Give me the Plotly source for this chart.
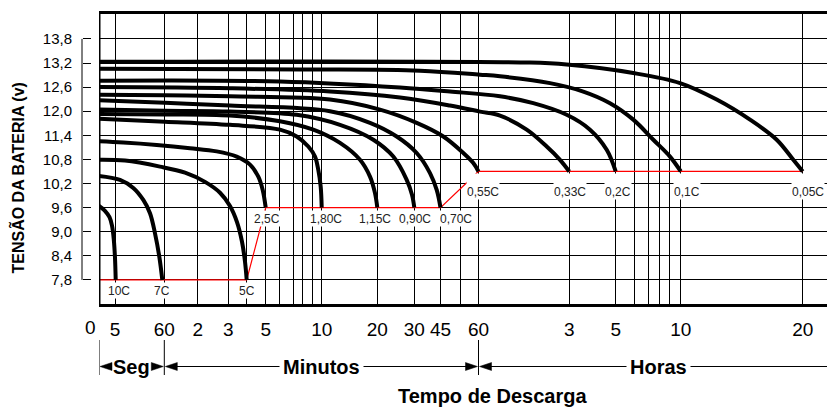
import numpy as np
import plotly.graph_objects as go

# ---------------- data ----------------
# time scale of the original chart: time (minutes) -> position on the drawn axis
GRID_TIMES = [0, 5 / 60, 1, 2, 3, 4, 5, 6, 7, 8, 9, 10, 20, 30, 45, 50, 60,
              180, 300, 360, 420, 480, 540, 600, 1200]
GRID_POS = [0, 16, 65.3, 98.7, 129.3, 147.7, 166.7, 180, 194.3, 203.3, 213.3, 222.7,
            278.3, 315.3, 341.5, 361.5, 379.5, 470.3, 516.7, 535.7, 549.2, 560.8,
            570.5, 581.8, 703.7]
X_RANGE = [0, 728]

MAJOR_TIMES = [5 / 60, 1, 2, 3, 5, 10, 20, 30, 45, 60, 180, 300, 600, 1200]
MAJOR_TEXT = ["5", "60", "2", "3", "5", "10", "20", "30", "45", "60", "3", "5", "10", "20"]
MINOR_TIMES = [4, 6, 7, 8, 9, 50, 360, 420, 480, 540]

Y_TICKS = [7.8, 8.4, 9.0, 9.6, 10.2, 10.8, 11.4, 12.0, 12.6, 13.2, 13.8]
Y_RANGE = [7.2, 14.42]

RATES = ["10C", "7C", "5C", "2,5C", "1,80C", "1,15C", "0,90C", "0,70C",
         "0,55C", "0,33C", "0,2C", "0,1C", "0,05C"]

T_10C = [0, 0.031, 0.0547, 0.0677, 0.0771, 0.0833, 0.0963]
V_10C = [9.64, 9.52, 9.36, 9.15, 8.80, 8.35, 7.80]

T_7C = [0, 0.1763, 0.4236, 0.6095, 0.7341, 0.8271, 0.907, 0.9628]
V_7C = [10.39, 10.29, 10.09, 9.79, 9.46, 8.96, 8.38, 7.80]

T_5C = [0, 0.2692, 0.92, 1.62, 2.239, 2.729, 3.092, 3.473, 3.745, 3.908, 4.0]
V_5C = [10.79, 10.77, 10.62, 10.47, 10.24, 9.97, 9.64, 9.24, 8.75, 8.25, 7.80]

T_2_5C = [0, 0.2376, 0.8587, 1.769, 2.621, 3.457, 4.174, 4.611, 4.842, 5.0]
V_2_5C = [11.25, 11.22, 11.16, 11.08, 11.00, 10.87, 10.67, 10.37, 10.04, 9.60]

T_1_80C = [0, 1.021, 3.092, 6.07, 7.378, 8.6, 9.287, 9.638, 9.894, 10.0]
V_1_80C = [11.81, 11.74, 11.66, 11.54, 11.37, 11.12, 10.87, 10.54, 10.12, 9.60]

T_1_15C = [0, 1.021, 3.092, 6.07, 9.106, 13.29, 16.889, 18.687, 19.587, 20.0]
V_1_15C = [11.93, 11.92, 11.89, 11.75, 11.54, 11.21, 10.79, 10.37, 9.96, 9.60]

T_0_90C = [0, 1.021, 3.092, 7.378, 13.29, 19.281, 24.324, 27.946, 29.378, 30.0]
V_0_90C = [12.04, 12.01, 11.99, 11.91, 11.66, 11.29, 10.87, 10.29, 9.92, 9.60]

T_0_70C = [0, 1.021, 3.092, 11.493, 18.687, 25.243, 31.374, 38.989, 42.824, 45.0]
V_0_70C = [12.27, 12.21, 12.14, 12.00, 11.71, 11.37, 10.96, 10.46, 10.04, 9.60]

T_0_55C = [0, 1.021, 3.092, 11.493, 20.73, 31.374, 45.7, 51.556, 57.111, 60.0]
V_0_55C = [12.41, 12.40, 12.37, 12.29, 12.04, 11.71, 11.37, 10.96, 10.71, 10.50]

T_0_33C = [0, 3.092, 11.493, 26.135, 47.375, 61.98, 88.41, 123.7, 150.13, 167.7, 180.0]
V_0_33C = [12.60, 12.57, 12.49, 12.34, 12.14, 11.99, 11.89, 11.54, 11.12, 10.79, 10.50]

T_0_2C = [0, 6.07, 26.135, 47.375, 88.41, 132.42, 176.57, 233.53, 276.72, 300.0]
V_0_2C = [12.76, 12.74, 12.59, 12.49, 12.37, 12.20, 11.91, 11.54, 11.04, 10.50]

T_0_1C = [0, 7.744, 33.26, 61.98, 88.41, 154.49, 216.21, 285.26, 355.58, 446.38, 542.65, 600.0]
V_0_1C = [13.06, 13.04, 13.01, 12.91, 12.87, 12.70, 12.49, 12.20, 11.79, 11.29, 10.87, 10.50]

T_0_05C = [0, 128.06, 176.57, 355.58, 595.8, 776.7, 940.6, 1072.0, 1153.7, 1200.0]
V_0_05C = [13.23, 13.21, 13.16, 12.95, 12.70, 12.29, 11.79, 11.29, 10.79, 10.50]

TIMES = [T_10C, T_7C, T_5C, T_2_5C, T_1_80C, T_1_15C, T_0_90C, T_0_70C,
         T_0_55C, T_0_33C, T_0_2C, T_0_1C, T_0_05C]
VOLTS = [V_10C, V_7C, V_5C, V_2_5C, V_1_80C, V_1_15C, V_0_90C, V_0_70C,
         V_0_55C, V_0_33C, V_0_2C, V_0_1C, V_0_05C]

# ---------------- styling ----------------
W, H = 827, 407
ML, MR, MT, MB = 0, 0, 14, 103
PW, PH = W - ML - MR, H - MT - MB
FONT = "Liberation Sans, Arial, sans-serif"
# label offsets (px) relative to each curve's end point, and white box heights
LABEL_DX = [3, 0, 0, 1, 4, -2, 1, 15, 4, 1, 2, 6, 5]
LABEL_BOX_H = [15, 15, 15, 15, 15, 15, 15, 15, 25, 25, 25, 25, 25]


def to_pos(t):
    return np.interp(np.asarray(t, dtype=float), GRID_TIMES, GRID_POS)


def px_x(p):
    return (p - ML) / PW


def px_y(p):
    return (H - MB - p) / PH


fig = go.Figure()

# red end-of-discharge line joining curve end points
end_idx = [2, 3, 7, 8, 12]
red_t = [0] + [TIMES[i][-1] for i in end_idx]
red_v = [VOLTS[2][-1]] + [VOLTS[i][-1] for i in end_idx]
fig.add_trace(go.Scatter(x=to_pos(red_t), y=red_v, mode="lines",
                         line=dict(color="#ff0000", width=1.2),
                         hoverinfo="skip", showlegend=False))

for name, t, v in zip(RATES, TIMES, VOLTS):
    fig.add_trace(go.Scatter(x=to_pos(t), y=v, mode="lines", name=name,
                             line=dict(color="black", width=4, shape="spline", smoothing=1.0),
                             showlegend=False))

annotations = []
for i, (name, t, v) in enumerate(zip(RATES, TIMES, VOLTS)):
    annotations.append(dict(
        x=float(to_pos(t[-1])), y=v[-1], xref="x", yref="y", text=name,
        showarrow=False, xanchor="center", yanchor="top", yshift=-2,
        xshift=LABEL_DX[i], height=LABEL_BOX_H[i], valign="bottom",
        bgcolor="white", borderpad=0,
        font=dict(family=FONT, size=12, color="#222")))

# "0" tick label left of the frame
annotations.append(dict(x=px_x(90), y=px_y(327), xref="paper", yref="paper", text="0",
                        showarrow=False, xanchor="center", yanchor="middle",
                        font=dict(family=FONT, size=19, color="black")))

# unit groups below the axis
grp_y = px_y(366.5)
p0, p1, p60 = [float(to_pos(v)) for v in (0, 1, 60)]
annotations.append(dict(x=(p0 + p1) / 2, y=grp_y, xref="x", yref="paper", text="<b>Seg</b>",
                        showarrow=False, xanchor="center", yanchor="middle",
                        font=dict(family=FONT, size=20, color="black")))
annotations.append(dict(x=(p1 + p60) / 2, y=grp_y, xref="x", yref="paper", text="<b>Minutos</b>",
                        showarrow=False, xanchor="center", yanchor="middle", bgcolor="white",
                        borderpad=3, font=dict(family=FONT, size=20, color="black")))
annotations.append(dict(x=px_x(658), y=grp_y, xref="paper", yref="paper", text="<b>Horas</b>",
                        showarrow=False, xanchor="center", yanchor="middle", bgcolor="white",
                        borderpad=3, font=dict(family=FONT, size=20, color="black")))
annotations.append(dict(x=px_x(492.5), y=px_y(396), xref="paper", yref="paper",
                        text="<b>Tempo de Descarga</b>", showarrow=False,
                        xanchor="center", yanchor="middle",
                        font=dict(family=FONT, size=20, color="black")))
annotations.append(dict(x=px_x(16.5), y=px_y(178), xref="paper", yref="paper",
                        text="<b>TENSÃO DA BATERIA (v)</b>", textangle=-90, showarrow=False,
                        xanchor="center", yanchor="middle",
                        font=dict(family=FONT, size=16, color="black")))

shapes = []
# left frame edge
shapes.append(dict(type="line", xref="x", yref="paper", x0=0, x1=0, y0=0, y1=1,
                   line=dict(color="black", width=3)))
# separate voltage axis line
shapes.append(dict(type="line", xref="paper", yref="y", x0=px_x(82), x1=px_x(82),
                   y0=Y_TICKS[0], y1=Y_TICKS[-1], line=dict(color="black", width=1)))
# group brackets
for p in (p0, p1, p60):
    shapes.append(dict(type="line", xref="x", yref="paper", x0=p, x1=p,
                       y0=px_y(340), y1=px_y(375), line=dict(color="black", width=1)))
shapes.append(dict(type="line", xref="x", yref="paper", x0=p1 + 11, x1=p60 - 9,
                   y0=grp_y, y1=grp_y, line=dict(color="black", width=1)))
shapes.append(dict(type="line", xref="x", yref="paper", x0=p60 + 11, x1=X_RANGE[1],
                   y0=grp_y, y1=grp_y, line=dict(color="black", width=1)))
# arrowheads
left_head = "M 1,0 L 13,4 L 13,-4 Z"
right_head = "M -1,0 L -13,4 L -13,-4 Z"
for anchor, path in ((p0, left_head), (p1, right_head), (p1, left_head),
                     (p60, right_head), (p60, left_head)):
    shapes.append(dict(type="path", xref="x", yref="paper", xsizemode="pixel",
                       ysizemode="pixel", xanchor=anchor, yanchor=grp_y, path=path,
                       fillcolor="black", line=dict(color="black", width=0.5)))

fig.update_layout(
    width=W, height=H,
    margin=dict(l=ML, r=MR, t=MT, b=MB),
    paper_bgcolor="white", plot_bgcolor="white",
    separators=",.",
    showlegend=False,
    annotations=annotations,
    shapes=shapes,
    xaxis=dict(
        domain=[px_x(99), 1], range=X_RANGE, automargin=False,
        tickmode="array", tickvals=to_pos(MAJOR_TIMES).tolist(), ticktext=MAJOR_TEXT,
        ticks="", showgrid=True, gridcolor="black", gridwidth=1,
        minor=dict(tickvals=to_pos(MINOR_TIMES).tolist(), showgrid=True,
                   gridcolor="black", gridwidth=1, ticks=""),
        showline=True, linecolor="black", linewidth=3, mirror=True,
        zeroline=False, ticklabelstandoff=6,
        tickfont=dict(family=FONT, size=19, color="black"),
    ),
    yaxis=dict(
        range=Y_RANGE, anchor="free", position=px_x(82), automargin=False,
        tickmode="array", tickvals=Y_TICKS, tickformat=".1f",
        ticks="inside", ticklen=8, tickwidth=1, tickcolor="black",
        showgrid=True, gridcolor="black", gridwidth=1,
        showline=False, zeroline=False, ticklabelstandoff=10,
        tickfont=dict(family=FONT, size=15, color="black"),
    ),
)

fig.write_html("out.html")
